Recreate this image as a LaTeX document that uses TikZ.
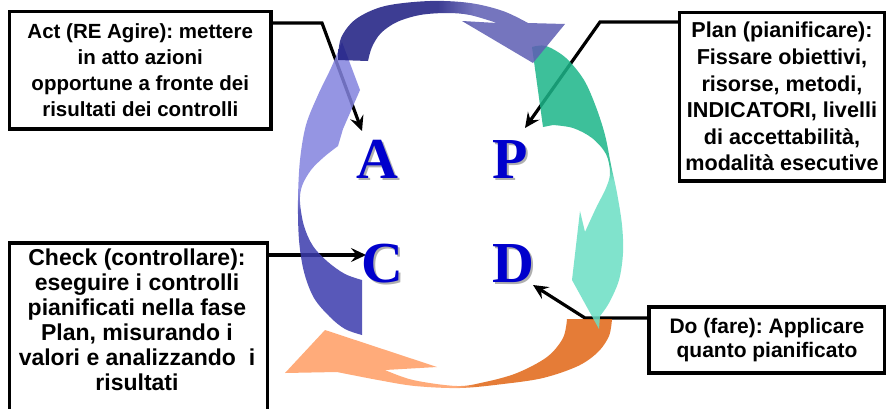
\documentclass[tikz,border=0pt]{standalone}
\usepackage{fontspec}
\setmainfont{Liberation Sans}
\newfontfamily\letterfont{Liberation Serif}
\usetikzlibrary{arrows.meta}
\frenchspacing
\definecolor{navyA}{RGB}{28,28,129}
\definecolor{navyB}{RGB}{94,94,179}
\definecolor{lavA}{RGB}{131,131,223}
\definecolor{lavB}{RGB}{59,59,173}
\definecolor{tealA}{RGB}{28,181,137}
\definecolor{tealB}{RGB}{106,223,196}
\definecolor{orA}{RGB}{225,102,20}
\definecolor{orB}{RGB}{255,157,99}
\definecolor{letterblue}{RGB}{0,0,204}
\definecolor{shadowgray}{RGB}{175,175,175}
\pgfdeclarehorizontalshading{topsh}{100bp}{color(0bp)=(navyA); color(47bp)=(navyA); color(55bp)=(navyB); color(100bp)=(navyB)}
\pgfdeclareverticalshading{leftsh}{100bp}{color(0bp)=(lavB); color(46bp)=(lavB); color(50bp)=(lavA); color(100bp)=(lavA)}
\pgfdeclareverticalshading{rightsh}{100bp}{color(0bp)=(tealB); color(51bp)=(tealB); color(54bp)=(tealA); color(100bp)=(tealA)}
\pgfdeclarehorizontalshading{botsh}{100bp}{color(0bp)=(orB); color(51bp)=(orB); color(54bp)=(orA); color(100bp)=(orA)}
\newcommand{\shadowletter}[1]{\makebox[0pt][l]{\hspace{2.5pt}\raisebox{-2.5pt}{\textcolor{shadowgray}{#1}}}#1}
\begin{document}
\begin{tikzpicture}[x=1pt,y=-1pt,
  box/.style={draw=black, line width=3.2pt, inner sep=0pt, align=center},
  boxtext/.style={inner sep=0pt, align=center},
  conn/.style={line width=3.2pt, -{Stealth[length=15pt,width=14pt,inset=5.5pt]}},
  arrowfill/.style={fill opacity=0.85, draw=none},
  letter/.style={font=\letterfont\bfseries\fontsize{58}{58}\selectfont, text=letterblue, inner sep=0pt, anchor=base}]
\useasboundingbox (0,0) rectangle (886,408);
\clip (0,0) rectangle (886,408);
\fill[white] (0,0) rectangle (886,408);

% boxes
\node[box, minimum width=261.5pt, minimum height=117.5pt,
  font=\bfseries\fontsize{20.5}{26}\selectfont] (act) at (140.25,70.25)
  {Act (RE Agire): mettere\\in atto azioni\\opportune a fronte dei\\risultati dei controlli};
\node[box, minimum width=205pt, minimum height=168.5pt,
  font=\bfseries\fontsize{21.6}{26.6}\selectfont] (plan) at (782,96.75)
  {Plan (pianificare):\\Fissare obiettivi,\\risorse, metodi,\\INDICATORI, livelli\\di accettabilit\`a,\\modalit\`a esecutive};
\node[box, minimum width=258pt, minimum height=180pt] (check) at (138.5,333) {};
\node[boxtext, font=\bfseries\fontsize{23}{25}\selectfont] (checktxt) at (137,320)
  {Check (controllare):\\eseguire i controlli\\pianificati nella fase\\Plan, misurando i\\valori e analizzando\ \ i\\risultati};
\node[box, minimum width=236pt, minimum height=66pt,
  font=\bfseries\fontsize{21}{24}\selectfont] (do) at (767,340)
  {Do (fare): Applicare\\quanto pianificato};

% connectors
\coordinate (actb) at (322,23);
\coordinate (Atip) at (362,131);
\coordinate (planb) at (600,22);
\coordinate (Ptip) at (525,128);
\coordinate (Ctip) at (366,255);
\coordinate (dob) at (585,318);
\coordinate (Dtip) at (533,285);
\draw[conn] (act.east |- actb) -- (actb) -- (Atip);
\draw[conn] (plan.west |- planb) -- (planb) -- (Ptip);
\draw[conn] (check.east |- Ctip) -- (Ctip);
\draw[conn] (do.west |- dob) -- (dob) -- (Dtip);

% bottom arrow (orange)
\shade[shading=botsh, arrowfill] (567,319) -- (612,319)
  -- plot[smooth, tension=0.55] coordinates {(612,319) (609,336) (598,352) (578,366) (543,378) (503,384) (460,388) (415,386) (378,380) (337,372)}
  -- (285,373) -- (325,330) -- (437,367) -- (385,370)
  -- plot[smooth, tension=0.55] coordinates {(385,370) (413,380) (457,386) (485,382) (517,373) (547,357) (563,338) (567,319)}
  -- cycle;

% left arrow (blue/lavender)
\shade[shading=leftsh, arrowfill] (362,335)
  -- plot[smooth, tension=0.55] coordinates {(362,335) (345,329) (330,317) (314,298) (304,272) (299,240) (298,200) (300,160) (306,125) (318,95) (331,68) (342,42)}
  -- (360,90) -- (343,129) -- (338,146)
  -- plot[smooth, tension=0.55] coordinates {(338,146) (324,157) (311,170) (302,186) (300,202) (304,226) (313,246) (328,262) (345,274) (362,280)}
  -- cycle;

% right arrow (teal)
\shade[shading=rightsh, arrowfill] (532,47)
  -- plot[smooth, tension=0.55] coordinates {(532,47) (546,46) (566,58) (584,80) (596,107) (605,135) (611,165) (617,193) (622,225) (623,253) (619,280) (609,303) (600,316)}
  -- (599,329) -- (572,280) -- (580,211) -- (585,232)
  -- plot[smooth, tension=0.55] coordinates {(585,232) (596,208) (606,188) (610,173) (606,154) (592,138) (573,128) (553,125)}
  -- (543,127) -- cycle;

% top arrow (navy)
\shade[shading=topsh, arrowfill] (338,60)
  -- plot[smooth, tension=0.55] coordinates {(338,60) (341,38) (356,19) (385,6) (430,1) (470,3) (503,11) (528,23)}
  -- (565,24) -- (533,63) -- (462,21) -- (497,23)
  -- plot[smooth, tension=0.55] coordinates {(497,23) (470,15) (447,13) (420,15) (397,22) (381,33) (372,47) (368,61)}
  -- cycle;

% letters
\node[letter] (A) at (377,178) {\shadowletter{A}};
\node[letter] (P) at (510,178) {\shadowletter{P}};
\node[letter] (C) at (382,282) {\shadowletter{C}};
\node[letter] (D) at (513,282) {\shadowletter{D}};
\end{tikzpicture}
\end{document}
